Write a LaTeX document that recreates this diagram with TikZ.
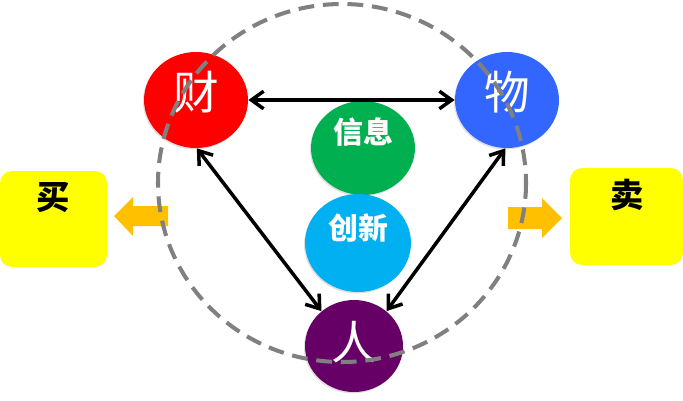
\documentclass[tikz,border=0pt]{standalone}
\usepackage{fontspec}
\newfontfamily\cjk{Noto Sans CJK SC}
\usetikzlibrary{shapes.geometric,arrows.meta,shadows}
\definecolor{caired}{HTML}{FF0000}
\definecolor{wublue}{HTML}{3366FF}
\definecolor{xigreen}{HTML}{00B050}
\definecolor{chcyan}{HTML}{00B0F0}
\definecolor{renpurple}{HTML}{660066}
\definecolor{boxyellow}{HTML}{FFFF00}
\definecolor{arroworange}{HTML}{FFC000}
\definecolor{ringgray}{HTML}{808080}
\tikzset{
  ball/.style={ellipse,inner sep=0pt,minimum width=2.08cm,minimum height=1.92cm,
    drop shadow={shadow xshift=-0.6pt,shadow yshift=-0.8pt,opacity=0.25}},
  bigchar/.style={text=white,font=\cjk\fontsize{26pt}{26pt}\selectfont},
  midchar/.style={text=white,font=\cjk\bfseries\fontsize{17pt}{17pt}\selectfont},
  tradebox/.style={fill=boxyellow,rounded corners=0.24cm,minimum width=2.14cm,minimum height=1.92cm},
  tradechar/.style={text=black,font=\cjk\bfseries\fontsize{19pt}{19pt}\selectfont},
  conn/.style={black,line width=2pt,{Straight Barb[length=7pt,width=10pt]}-{Straight Barb[length=7pt,width=10pt]}}
}
\begin{document}
\begin{tikzpicture}[x=0.02cm,y=-0.02cm]
\useasboundingbox (0,0) rectangle (683,400);
\node[tradebox] (buybox) at (53.5,219) {};
\node[tradebox,minimum width=2.26cm,minimum height=1.94cm] (sellbox) at (626.5,216.5) {};
\node[tradechar] (buytext) at (53,197) {买};
\node[tradechar] (selltext) at (627,195) {卖};
\fill[arroworange] (114,216) -- (133,197) -- (133,206) -- (168,206) -- (168,226) -- (133,226) -- (133,236) -- cycle;
\fill[arroworange] (562,218) -- (542,198) -- (542,207) -- (508,207) -- (508,229) -- (542,229) -- (542,238) -- cycle;
\node[ball,fill=caired,label={[bigchar,yshift=0.16cm]center:财}] (cai) at (196,100) {};
\node[ball,fill=wublue,label={[bigchar,yshift=0.16cm]center:物}] (wu) at (507,100) {};
\node[ball,fill=xigreen,minimum height=1.88cm,label={[midchar,yshift=0.32cm]center:信息}] (xinxi) at (363,148) {};
\node[ball,fill=chcyan,minimum width=2.12cm,minimum height=1.96cm,label={[midchar,yshift=0.3cm]center:创新}] (chuangxin) at (358,243) {};
\node[ball,fill=renpurple,minimum width=1.96cm,minimum height=1.84cm,label={[bigchar,yshift=0.08cm]center:人}] (ren) at (354,346) {};
\draw[conn] (cai.east) -- (wu.west);
\draw[conn] (cai.-89) -- (ren.133);
\draw[conn] (wu.-92) -- (ren.47);
\draw[ringgray,line width=2.3pt,dash pattern=on 9pt off 5pt] (342,183) ellipse [x radius=184,y radius=179];
\end{tikzpicture}
\end{document}
